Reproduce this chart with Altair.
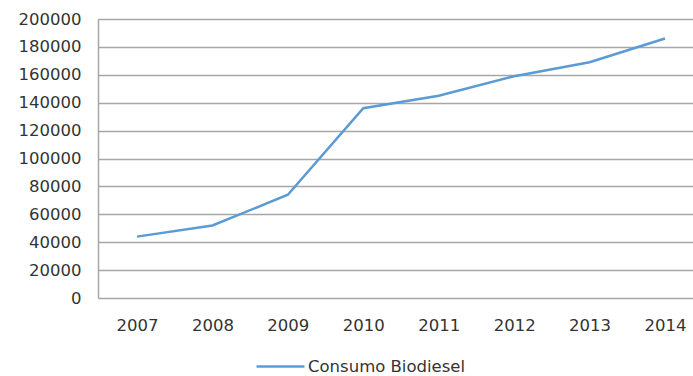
import altair as alt
import pandas as pd

years = ["2007", "2008", "2009", "2010", "2011", "2012", "2013", "2014"]
values = [44000, 52000, 74000, 136000, 145000, 159000, 169000, 186000]
series = "Consumo Biodiesel"

df = pd.DataFrame({"ano": years, "valor": values, "serie": [series] * len(years)})

FONT = "DejaVu Sans"
FS = 16.5

chart = alt.Chart(df).mark_line(strokeWidth=2.5).encode(
    x=alt.X("ano:O", sort=years, title=None,
            scale=alt.Scale(type="point", padding=0.444, align=0.582),
            axis=alt.Axis(labelAngle=0, ticks=False, domain=False, grid=False,
                          labelPadding=19, labelFontSize=FS, labelColor="#333333",
                          labelFont=FONT)),
    y=alt.Y("valor:Q", title=None,
            scale=alt.Scale(domain=[0, 200000], nice=False),
            axis=alt.Axis(values=list(range(0, 200001, 20000)), ticks=False,
                          domain=True, domainColor="#A6A6A6", domainWidth=1.5,
                          grid=True, gridColor="#A6A6A6", gridWidth=1.5,
                          labelPadding=17, labelFontSize=FS, labelColor="#333333",
                          labelFont=FONT, format="d")),
    color=alt.Color("serie:N", scale=alt.Scale(range=["#5B9BD5"]),
                    legend=alt.Legend(title=None, orient="none", legendX=157, legendY=322,
                                      symbolType="stroke", symbolSize=2300,
                                      symbolStrokeWidth=2.5, labelFontSize=FS,
                                      labelFont=FONT, labelColor="#333333",
                                      labelOffset=2)),
).properties(
    width=595, height=279,
    autosize=alt.AutoSizeParams(type="none"),
    padding={"left": 98, "top": 19, "right": 0, "bottom": 78},
).configure_view(stroke=None).configure(background="white")

chart.save("out.html", embed_options={"renderer": "svg", "actions": False})
